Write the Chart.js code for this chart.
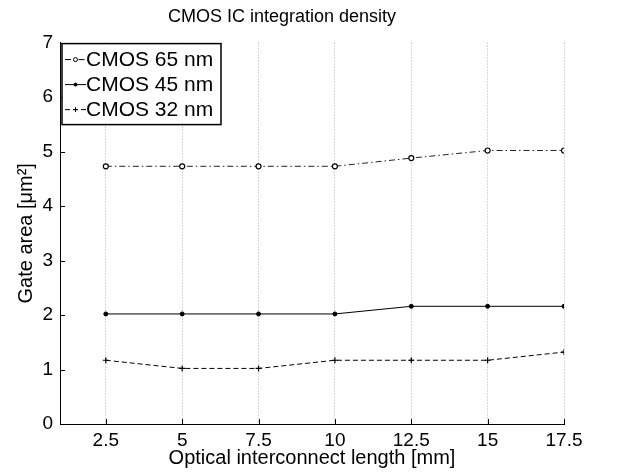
<!DOCTYPE html>
<html>
<head>
<meta charset="utf-8">
<script src="https://cdn.jsdelivr.net/npm/chart.js@4.4.0/dist/chart.umd.min.js"></script>
<style>
  html, body { margin: 0; padding: 0; background: #fff; }
  #wrap { width: 622px; height: 472px; }
</style>
</head>
<body>
<div id="wrap"><canvas id="mycanvas" width="622" height="472"></canvas></div>
<script>
// data
var lengths = [2.5, 5, 7.5, 10, 12.5, 15, 17.5];
var cmos65 = [4.73, 4.73, 4.73, 4.73, 4.88, 5.02, 5.02];
var cmos45 = [2.02, 2.02, 2.02, 2.02, 2.16, 2.16, 2.16];
var cmos32 = [1.17, 1.02, 1.02, 1.17, 1.17, 1.17, 1.32];
var seriesNames = ['CMOS 65 nm', 'CMOS 45 nm', 'CMOS 32 nm'];
var xTicks = [2.5, 5, 7.5, 10, 12.5, 15, 17.5];

var FONT = 'Liberation Sans, Arial, Helvetica, sans-serif';

function pts(ys) {
	var out = [];
	for (var i in lengths) out.push({x: lengths[i], y: ys[i]});
	return out;
}

// legend drawn inside the axes like matlab
var legendBox = {
	id: 'legendBox',
	afterDraw: function(chart) {
		var ctx = chart.ctx;
		var a = chart.chartArea;
		var x0 = a.left + 2, y0 = a.top + 1, w = 159, h = 81;
		ctx.save();
		ctx.fillStyle = '#fff';
		ctx.fillRect(x0, y0, w, h);
		ctx.strokeStyle = '#000';
		ctx.lineWidth = 1.5;
		ctx.strokeRect(x0, y0, w, h);
		chart.data.datasets.forEach(function(ds, i) {
			var y = y0 + 16 + i * 25;
			ctx.strokeStyle = '#000';
			ctx.lineWidth = 1;
			ctx.setLineDash(ds.borderDash || []);
			ctx.beginPath();
			ctx.moveTo(x0 + 3, y);
			ctx.lineTo(x0 + 24, y);
			ctx.stroke();
			ctx.setLineDash([]);
			var mx = x0 + 13.5;
			if (ds.pointStyle === 'cross') {
				ctx.beginPath();
				ctx.moveTo(mx - 2.5, y); ctx.lineTo(mx + 2.5, y);
				ctx.moveTo(mx, y - 2.5); ctx.lineTo(mx, y + 2.5);
				ctx.stroke();
			} else {
				ctx.beginPath();
				ctx.arc(mx, y, ds.pointRadius - 0.5, 0, Math.PI * 2);
				ctx.fillStyle = ds.pointBackgroundColor;
				ctx.fill();
				ctx.stroke();
			}
			ctx.fillStyle = '#000';
			ctx.font = '21px ' + FONT;
			ctx.textBaseline = 'middle';
			ctx.textAlign = 'left';
			ctx.fillText(ds.label, x0 + 24, y + 1);
		});
		ctx.restore();
	}
};

// inward tick marks
var inTicks = {
	id: 'inTicks',
	afterDatasetsDraw: function(chart) {
		var ctx = chart.ctx;
		var a = chart.chartArea;
		var xs = chart.scales.x, ys = chart.scales.y;
		ctx.save();
		ctx.strokeStyle = '#000';
		ctx.lineWidth = 1;
		ctx.beginPath();
		xTicks.forEach(function(v) {
			var px = Math.round(xs.getPixelForValue(v)) + 0.5;
			ctx.moveTo(px, a.bottom);
			ctx.lineTo(px, a.bottom - 5);
		});
		for (var v = 0; v <= 7; v++) {
			var py = Math.round(ys.getPixelForValue(v)) + 0.5;
			ctx.moveTo(a.left, py);
			ctx.lineTo(a.left + 5, py);
		}
		ctx.stroke();
		ctx.restore();
	}
};

var ctx = document.getElementById('mycanvas');

var chart = new Chart(ctx, {
	type: 'line',
	data: {
		datasets: [
			{
				label: seriesNames[0],
				data: pts(cmos65),
				borderColor: '#222',
				borderWidth: 1,
				borderDash: [6, 3, 1.5, 3],
				pointStyle: 'circle',
				pointRadius: 2.5,
				pointBackgroundColor: '#fff',
				pointBorderColor: '#000',
				pointBorderWidth: 1.2,
				fill: false
			},
			{
				label: seriesNames[1],
				data: pts(cmos45),
				borderColor: '#000',
				borderWidth: 1,
				pointStyle: 'circle',
				pointRadius: 2,
				pointBackgroundColor: '#000',
				pointBorderColor: '#000',
				pointBorderWidth: 1,
				fill: false
			},
			{
				label: seriesNames[2],
				data: pts(cmos32),
				borderColor: '#000',
				borderWidth: 1,
				borderDash: [5, 3],
				pointStyle: 'cross',
				pointRadius: 3,
				pointBackgroundColor: '#000',
				pointBorderColor: '#000',
				pointBorderWidth: 1.2,
				fill: false
			}
		]
	},
	options: {
		responsive: false,
		animation: false,
		events: [],
		layout: { padding: { left: 0, right: 58, top: 0, bottom: 0 } },
		plugins: {
			legend: { display: false },
			tooltip: { enabled: false },
			title: {
				display: true,
				text: 'CMOS IC integration density',
				color: '#000',
				font: { family: FONT, size: 18, weight: 'normal' },
				padding: { top: 6, bottom: 15 }
			}
		},
		scales: {
			x: {
				type: 'linear',
				min: 1,
				max: 17.5,
				afterBuildTicks: function(scale) {
					scale.ticks = xTicks.map(function(v) { return {value: v}; });
				},
				afterFit: function(scale) { scale.height = 48; },
				grid: {
					display: true,
					drawTicks: false,
					color: '#b0b0b0',
					lineWidth: 1
				},
				// in v4 border.dash applies to the grid lines
				border: { display: true, color: '#000', width: 1, dash: [1, 2] },
				ticks: {
					color: '#000',
					padding: 5,
					maxRotation: 0,
					autoSkip: false,
					font: { family: FONT, size: 19 },
					callback: function(v) { return String(v); }
				},
				title: {
					display: true,
					text: 'Optical interconnect length [mm]',
					color: '#000',
					font: { family: FONT, size: 20 },
					padding: { top: 0, bottom: 2 }
				}
			},
			y: {
				min: 0,
				max: 7,
				afterFit: function(scale) { scale.width = 60; },
				grid: { display: false, drawTicks: false },
				border: { display: true, color: '#000', width: 1 },
				ticks: {
					stepSize: 1,
					color: '#000',
					padding: 7,
					font: { family: FONT, size: 19 }
				},
				title: {
					display: true,
					text: 'Gate area [\u03bcm\u00b2]',
					color: '#000',
					font: { family: FONT, size: 20 },
					padding: { top: 14, bottom: 0 }
				}
			}
		}
	},
	plugins: [inTicks, legendBox]
});
</script>
</body>
</html>
